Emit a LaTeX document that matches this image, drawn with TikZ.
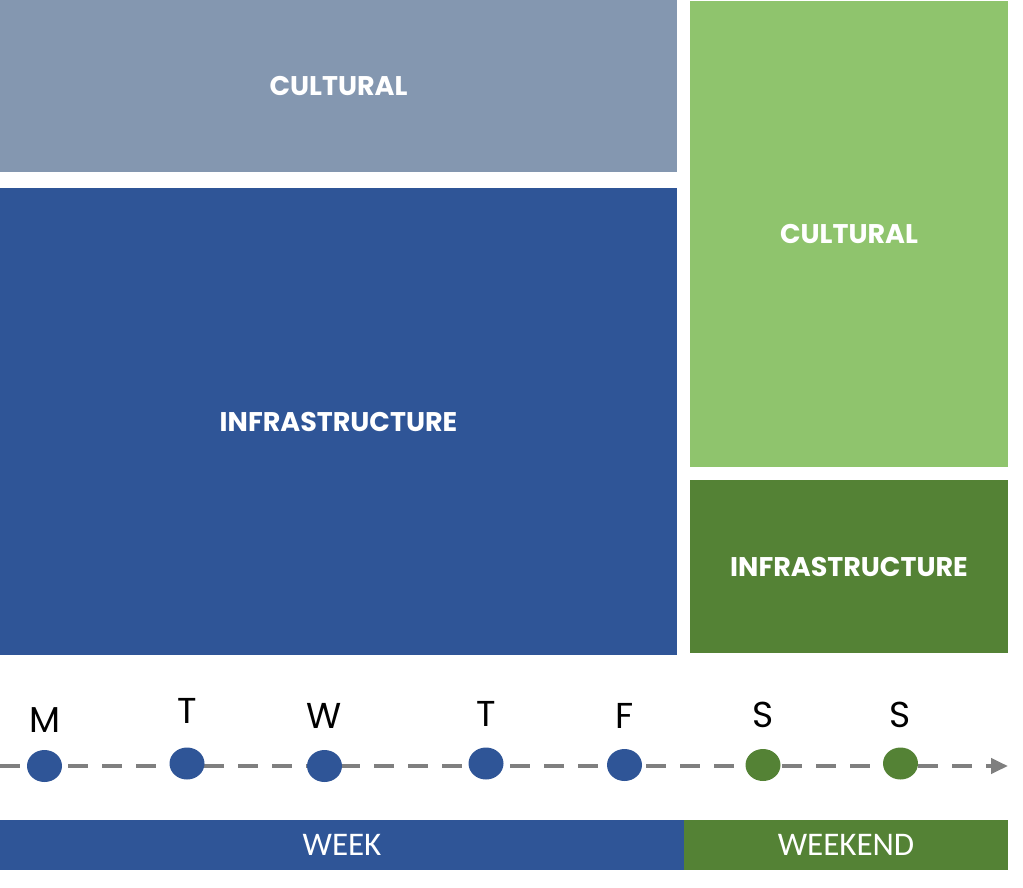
\documentclass[tikz,border=0pt]{standalone}
\usepackage{fontspec}
\setmainfont{Poppins}
\newfontfamily\weekfont{Carlito}
\usetikzlibrary{shapes.geometric,arrows.meta}
\definecolor{wkblue}{HTML}{2F5597}
\definecolor{wkgray}{HTML}{8497B0}
\definecolor{lgreen}{HTML}{8FC46D}
\definecolor{dgreen}{HTML}{548235}
\definecolor{lineg}{HTML}{7F7F7F}
\tikzset{
  block/.style={inner sep=0pt, outer sep=0pt, text=white,
    font=\fontsize{27}{27}\selectfont\bfseries},
  bar/.style={inner sep=0pt, outer sep=0pt, text=white,
    font=\weekfont\fontsize{33}{33}\selectfont},
  daydot/.style={ellipse, inner sep=0pt, minimum width=35pt, minimum height=32pt},
  daylbl/.style={anchor=base, inner sep=0pt, font=\fontsize{36}{36}\selectfont, text=black},
  timeline/.style={draw=lineg, line width=4pt, dash pattern=on 20pt off 14pt,
    -{Triangle[length=17pt,width=15pt]}}
}
\begin{document}
\begin{tikzpicture}[x=1pt,y=-1pt]
\useasboundingbox (0,0) rectangle (1023,887);
% blocks
\node[block, fill=wkgray, minimum width=677pt, minimum height=172pt] (wcult) at (338.5,86) {CULTURAL};
\node[block, fill=wkblue, minimum width=677pt, minimum height=467pt] (winfra) at (338.5,421.5) {INFRASTRUCTURE};
\node[block, fill=lgreen, minimum width=318pt, minimum height=466pt] (ecult) at (849,234) {CULTURAL};
\node[block, fill=dgreen, minimum width=318pt, minimum height=173pt] (einfra) at (849,566.5) {INFRASTRUCTURE};
% timeline
\coordinate (tstart) at (0,766);
\coordinate (tend) at (1008,766);
\draw[timeline] (tstart) -- (tend);
\node[daydot, fill=wkblue] (d1) at (44.5,766) {};
\node[daydot, fill=wkblue] (d2) at (187,763.5) {};
\node[daydot, fill=wkblue] (d3) at (324.5,766) {};
\node[daydot, fill=wkblue] (d4) at (486,763.5) {};
\node[daydot, fill=wkblue] (d5) at (624.5,765) {};
\node[daydot, fill=dgreen] (d6) at (763,765) {};
\node[daydot, fill=dgreen] (d7) at (900.5,763.5) {};
\node[daylbl] (l1) at (44.5,732) {M};
\node[daylbl] (l2) at (187,723) {T};
\node[daylbl] (l3) at (324.5,728) {W};
\node[daylbl] (l4) at (486,726) {T};
\node[daylbl] (l5) at (624.5,728) {F};
\node[daylbl] (l6) at (763,727) {S};
\node[daylbl] (l7) at (900.5,727) {S};
% bottom bars
\node[bar, fill=wkblue, minimum width=684pt, minimum height=50pt] (week) at (342,845) {WEEK};
\node[bar, fill=dgreen, minimum width=324pt, minimum height=50pt] (weekend) at (846,845) {WEEKEND};
\end{tikzpicture}
\end{document}
